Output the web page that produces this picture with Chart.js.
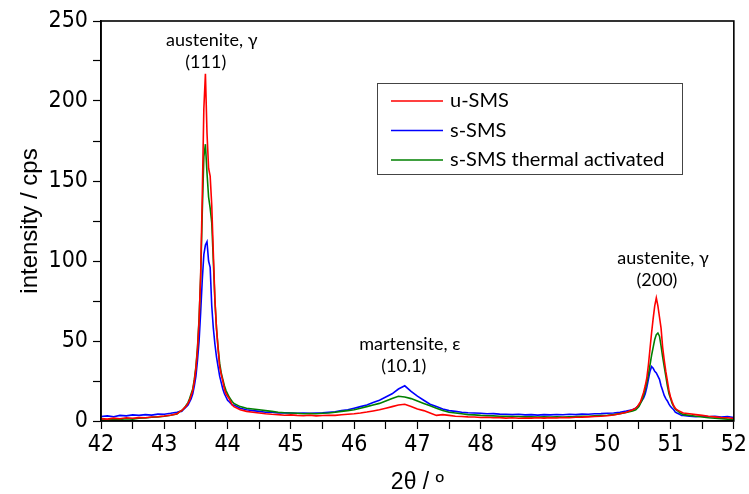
<!DOCTYPE html>
<html>
<head>
<meta charset="utf-8">
<script src="https://cdn.jsdelivr.net/npm/chart.js@4.4.0/dist/chart.umd.min.js"></script>
<style>
    html, body { margin: 0; padding: 0; background: #fff; }
    #wrap { width: 749px; height: 494px; }
</style>
</head>
<body>
<div id="wrap"><canvas id="xrdChart" width="749" height="494"></canvas></div>
<script>
// 2theta positions (deg) and intensities (cps)
const twoTheta = [
    42.0, 42.1, 42.2, 42.3, 42.4, 42.5, 42.6, 42.7, 42.8, 42.9, 43.0, 43.1, 43.2,
    43.25, 43.275, 43.3, 43.325, 43.35, 43.375, 43.4, 43.425, 43.45, 43.475, 43.5, 43.525,
    43.55, 43.575, 43.6, 43.625, 43.65, 43.675, 43.7, 43.725, 43.75, 43.775, 43.8, 43.825,
    43.85, 43.875, 43.9, 43.925, 43.95, 43.975, 44.0, 44.025, 44.05, 44.075, 44.1,
    44.2, 44.3, 44.4, 44.5, 44.6, 44.7, 44.8, 44.9, 45.0, 45.1, 45.2, 45.3, 45.4, 45.5,
    45.6, 45.7, 45.8, 45.9, 46.0, 46.1, 46.2, 46.3, 46.4, 46.5, 46.6, 46.7, 46.8, 46.9,
    47.0, 47.1, 47.2, 47.3, 47.4, 47.5, 47.6, 47.7, 47.8, 47.9, 48.0, 48.1, 48.2, 48.3,
    48.4, 48.5, 48.6, 48.7, 48.8, 48.9, 49.0, 49.1, 49.2, 49.3, 49.4, 49.5, 49.6, 49.7,
    49.8, 49.9, 50.0, 50.1, 50.2, 50.3, 50.4,
    50.45, 50.475, 50.5, 50.525, 50.55, 50.575, 50.6, 50.625, 50.65, 50.675, 50.7, 50.725,
    50.75, 50.775, 50.8, 50.825, 50.85, 50.875, 50.9, 50.925, 50.95, 50.975, 51.0, 51.025,
    51.05, 51.075, 51.1, 51.125, 51.15, 51.175, 51.2,
    51.3, 51.4, 51.5, 51.6, 51.7, 51.8, 51.9, 52.0
];

const uSMS = [
    1.5, 1.2, 1.8, 1.4, 2.0, 1.7, 2.1, 2.0, 2.5, 2.7, 3.1, 3.6, 4.5,
    6, 6.5, 7.5, 8.5, 9.5, 11, 13, 16, 19, 25, 33, 45,
    63, 92, 140, 195, 217, 180, 158, 153, 135, 105, 76, 58,
    45, 34, 29, 25, 20, 17, 15.5, 14, 12, 10, 9,
    7, 6, 5.5, 5, 4.5, 4.2, 4, 3.6, 3.8, 3.5, 3.3, 3.6, 3.2, 3.4,
    3.6, 3.5, 3.9, 4.2, 4.5, 5, 5.6, 6.3, 7, 8, 9, 10, 10.5, 9,
    7.5, 6.5, 5, 3.5, 4, 3.5, 3, 2.8, 2.6, 2.5, 2.2, 2.3, 2, 2.1,
    1.8, 2, 1.7, 1.9, 1.8, 2, 1.8, 2, 1.9, 2.2, 2, 2.3, 2.4, 2.6,
    2.8, 3, 3.3, 3.8, 4.5, 5.5, 7,
    8, 9, 10.5, 12, 15, 18, 22, 27, 35, 45, 55, 64,
    72, 77, 72, 65, 58, 46, 38, 31, 25, 19, 15, 12,
    9.5, 8, 7, 6.5, 6, 5.5, 5,
    4.5, 4, 3.5, 3, 2.6, 2.2, 2, 1.6
];

const sSMS = [
    2.8, 3.2, 2.7, 3.5, 3.2, 3.8, 3.5, 4.0, 3.7, 4.3, 4.2, 4.8, 5.5,
    6, 6, 7, 8, 9, 10, 12, 14, 17, 22, 28, 38,
    50, 68, 88, 104, 110, 112, 100, 96, 72, 58, 48, 40,
    34, 28, 24, 20, 17, 15, 13, 12, 11, 10, 10,
    8, 7, 6.5, 6, 5.5, 5.5, 5, 5.2, 5, 4.8, 5, 4.8, 5, 5.2,
    5.5, 5.8, 6.5, 7, 8, 9, 10, 11.5, 13, 15, 17, 20, 22, 18.5,
    15.5, 13, 10.5, 9, 7.5, 6.5, 6, 5.5, 5.2, 5, 4.8, 4.5, 4.6, 4.3,
    4.2, 4, 4.2, 3.8, 4, 3.7, 4, 3.8, 4.1, 3.9, 4.2, 4, 4.3, 4.2,
    4.5, 4.6, 4.8, 5, 5.5, 6.2, 7,
    8, 9, 10, 11.5, 13, 14.5, 17, 21, 26, 31, 34, 33,
    31, 30, 28, 26, 22, 19, 16, 14, 12.5, 10.5, 9, 8,
    7, 5.5, 5, 4.5, 4, 3.5, 3.5,
    3, 2.7, 3.2, 2.6, 3, 2.4, 2.8, 2.2
];

const sSMSthermal = [
    0.8, 0.6, 1.1, 0.9, 1.4, 1.2, 1.7, 1.9, 2.3, 2.6, 3.0, 3.6, 4.4,
    6, 6.5, 7.5, 8.5, 10, 11.5, 14, 17, 20, 26, 34, 46,
    64, 90, 130, 165, 173, 155, 140, 133, 124, 100, 75, 58,
    46, 36, 30, 26, 22, 19, 17, 15, 13.5, 12, 11,
    9, 8, 7.5, 7, 6.5, 6, 5.5, 5.2, 5, 4.8, 4.5, 4.7, 4.5, 4.8,
    5, 5.5, 6, 6.5, 7, 8, 9, 10, 11, 12.5, 14, 15.5, 15, 14,
    12.5, 11, 9.5, 8, 6.5, 5.5, 5, 4.5, 4, 3.8, 3.5, 3.3, 3.2, 3,
    3, 2.8, 2.8, 2.6, 2.7, 2.5, 2.6, 2.5, 2.6, 2.5, 2.7, 2.8, 3, 3,
    3.2, 3.4, 3.6, 4, 4.6, 5.3, 6.2,
    7, 8, 9, 11, 13, 16, 20, 24, 29, 35, 41, 46,
    51, 54, 55, 53, 47, 40, 34, 28, 22, 17, 14, 11,
    9, 7.5, 6.5, 6, 5, 4.5, 4,
    3.5, 3, 2.5, 2, 1.8, 1.5, 1.2, 1
];

const seriesNames = ['u-SMS', 's-SMS', 's-SMS thermal activated'];
const seriesColors = ['#ff0000', '#0000ff', '#008000'];

const peakNotes = [
    { lines: ['austenite, \u03b3', '(111)'], x: 43.75 },
    { lines: ['martensite, \u03b5', '(10.1)'], x: 46.88 },
    { lines: ['austenite, \u03b3', '(200)'], x: 50.88 }
];
const peakNoteY = [238, 48, 102];

const toPoints = ys => twoTheta.map((x, i) => ({ x: x, y: ys[i] }));

const textFont = '18px Lato, "Open Sans", sans-serif';
const tickFont = { family: '"Liberation Sans Narrow", "DejaVu Sans Condensed", "Liberation Sans", sans-serif', size: 23 };

const framePlugin = {
    id: 'frame',
    afterDatasetsDraw(chart) {
        const a = chart.chartArea;
        const c = chart.ctx;
        c.save();
        c.strokeStyle = '#000';
        c.lineWidth = 1.6;
        c.strokeRect(a.left, a.top, a.right - a.left, a.bottom - a.top);
        c.restore();
    }
};

const notesPlugin = {
    id: 'notes',
    afterDraw(chart) {
        const c = chart.ctx;
        const xs = chart.scales.x, ys = chart.scales.y;
        c.save();
        c.fillStyle = '#000';
        c.textAlign = 'center';
        c.textBaseline = 'middle';
        c.font = textFont;
        peakNotes.forEach((n, i) => {
            const px = xs.getPixelForValue(n.x);
            const py = ys.getPixelForValue(peakNoteY[i]);
            c.fillText(n.lines[0], px, py);
            c.fillText(n.lines[1], px - 6, py + 22);
        });

        // legend box
        const a = chart.chartArea;
        const bx = a.left + 276, by = a.top + 62, bw = 305, bh = 91;
        c.fillStyle = '#fff';
        c.fillRect(bx, by, bw, bh);
        c.strokeStyle = '#444';
        c.lineWidth = 1;
        c.strokeRect(bx + 0.5, by + 0.5, bw, bh);
        c.textAlign = 'left';
        c.font = '20px Lato, "Open Sans", sans-serif';
        seriesNames.forEach((name, i) => {
            const ly = by + 18 + i * 29.5;
            c.strokeStyle = seriesColors[i];
            c.lineWidth = 1.6;
            c.beginPath();
            c.moveTo(bx + 14, ly);
            c.lineTo(bx + 66, ly);
            c.stroke();
            c.fillStyle = '#000';
            c.fillText(name, bx + 73, ly);
        });
        c.restore();
    }
};

new Chart(document.getElementById('xrdChart'), {
    type: 'line',
    data: {
        datasets: [
            { label: seriesNames[0], data: toPoints(uSMS), borderColor: seriesColors[0], order: 0 },
            { label: seriesNames[1], data: toPoints(sSMS), borderColor: seriesColors[1], order: 2 },
            { label: seriesNames[2], data: toPoints(sSMSthermal), borderColor: seriesColors[2], order: 1 }
        ]
    },
    options: {
        responsive: false,
        animation: false,
        layout: { padding: { top: 21, right: 12, left: 0, bottom: 0 } },
        elements: {
            point: { radius: 0 },
            line: { borderWidth: 1.6, tension: 0 }
        },
        plugins: {
            legend: { display: false },
            tooltip: { enabled: false }
        },
        scales: {
            x: {
                type: 'linear',
                min: 42,
                max: 52,
                afterFit: s => { s.height = 73; },
                grid: { drawOnChartArea: false, tickLength: 8, color: '#000', tickWidth: 1.2 },
                border: { color: '#000', width: 1.6 },
                ticks: {
                    stepSize: 0.5,
                    color: '#000',
                    font: tickFont,
                    padding: 2,
                    maxRotation: 0,
                    autoSkip: false,
                    callback: v => Number.isInteger(v) ? v : ''
                },
                title: {
                    display: true,
                    text: '2\u03b8 / \u00ba',
                    color: '#000',
                    font: { family: '"Liberation Sans", Arial, sans-serif', size: 23 },
                    padding: { top: 0, bottom: -2 }
                }
            },
            y: {
                min: 0,
                max: 250,
                afterFit: s => { s.width = 101; },
                grid: { drawOnChartArea: false, tickLength: 8, color: '#000', tickWidth: 1.2 },
                border: { color: '#000', width: 1.6 },
                ticks: {
                    stepSize: 25,
                    color: '#000',
                    font: tickFont,
                    padding: 5,
                    autoSkip: false,
                    callback: v => v % 50 === 0 ? v : ''
                },
                title: {
                    display: true,
                    text: 'intensity / cps',
                    color: '#000',
                    font: { family: '"Liberation Sans", Arial, sans-serif', size: 24 },
                    padding: { top: 16, bottom: 0 }
                }
            }
        }
    },
    plugins: [framePlugin, notesPlugin]
});
</script>
</body>
</html>
